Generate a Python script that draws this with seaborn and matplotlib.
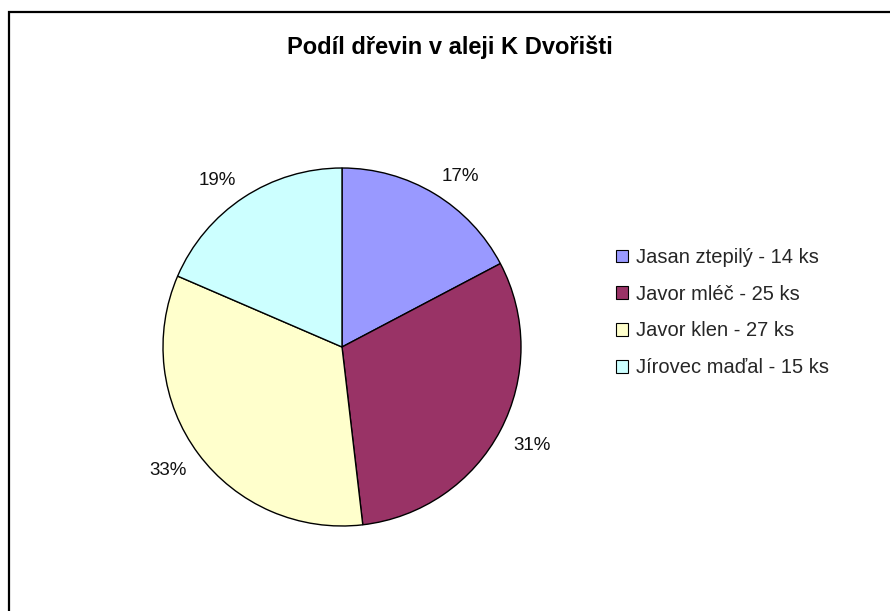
import matplotlib
matplotlib.use("Agg")
import matplotlib.pyplot as plt
import seaborn as sns
from matplotlib.patches import Rectangle

categories = ["Jasan ztepilý", "Javor mléč", "Javor klen", "Jírovec maďal"]
counts = [14, 25, 27, 15]
colors = ["#9999FF", "#993366", "#FFFFCC", "#CCFFFF"]
title = "Podíl dřevin v aleji K Dvořišti"

sns.set_theme(style="white")
plt.rcParams["font.family"] = ["Liberation Sans", "DejaVu Sans"]

W, H = 890, 611
fig = plt.figure(figsize=(W / 100, H / 100), dpi=100)
fig.patch.set_facecolor("white")

cx, cy, r = 342, 347, 179
ax = fig.add_axes([(cx - r) / W, (H - cy - r) / H, 2 * r / W, 2 * r / H])
wedges, texts, autotexts = ax.pie(
    counts, colors=colors, startangle=90, counterclock=False,
    autopct=lambda p: f"{p:.0f}%", pctdistance=1.08, labeldistance=None,
    wedgeprops=dict(edgecolor="black", linewidth=1.0), radius=1.0,
)
for t in autotexts:
    t.set_fontsize(13.5)
    t.set_color("#111111")
    x, y = t.get_position()
    t.set_ha("left" if x > 0 else "right")
    t.set_va("baseline" if y > 0 else "top")
ax.set_xlim(-1, 1)
ax.set_ylim(-1, 1)
ax.set_aspect("equal")
ax.axis("off")

labels = [f"{c} - {n} ks" for c, n in zip(categories, counts)]
leg = fig.legend(
    wedges, labels, loc="upper left",
    bbox_to_anchor=(608 / W, 1 - 240 / H), frameon=False,
    fontsize=14.5, handlelength=0.6, handleheight=0.6, handletextpad=0.4,
    labelspacing=0.88, borderaxespad=0,
)
for h in leg.legend_handles:
    h.set_edgecolor("black")
    h.set_linewidth(0.8)

fig.text(450 / W, 1 - 47 / H, title, ha="center", va="center",
         fontsize=17, fontweight="bold", color="black")

fig.patches.append(Rectangle((8.5 / W, -0.1), 1.2, 1.1 - 12 / H,
                             transform=fig.transFigure, fill=False,
                             edgecolor="black", linewidth=1.6))

fig.savefig("out.png", dpi=100, facecolor="white")
